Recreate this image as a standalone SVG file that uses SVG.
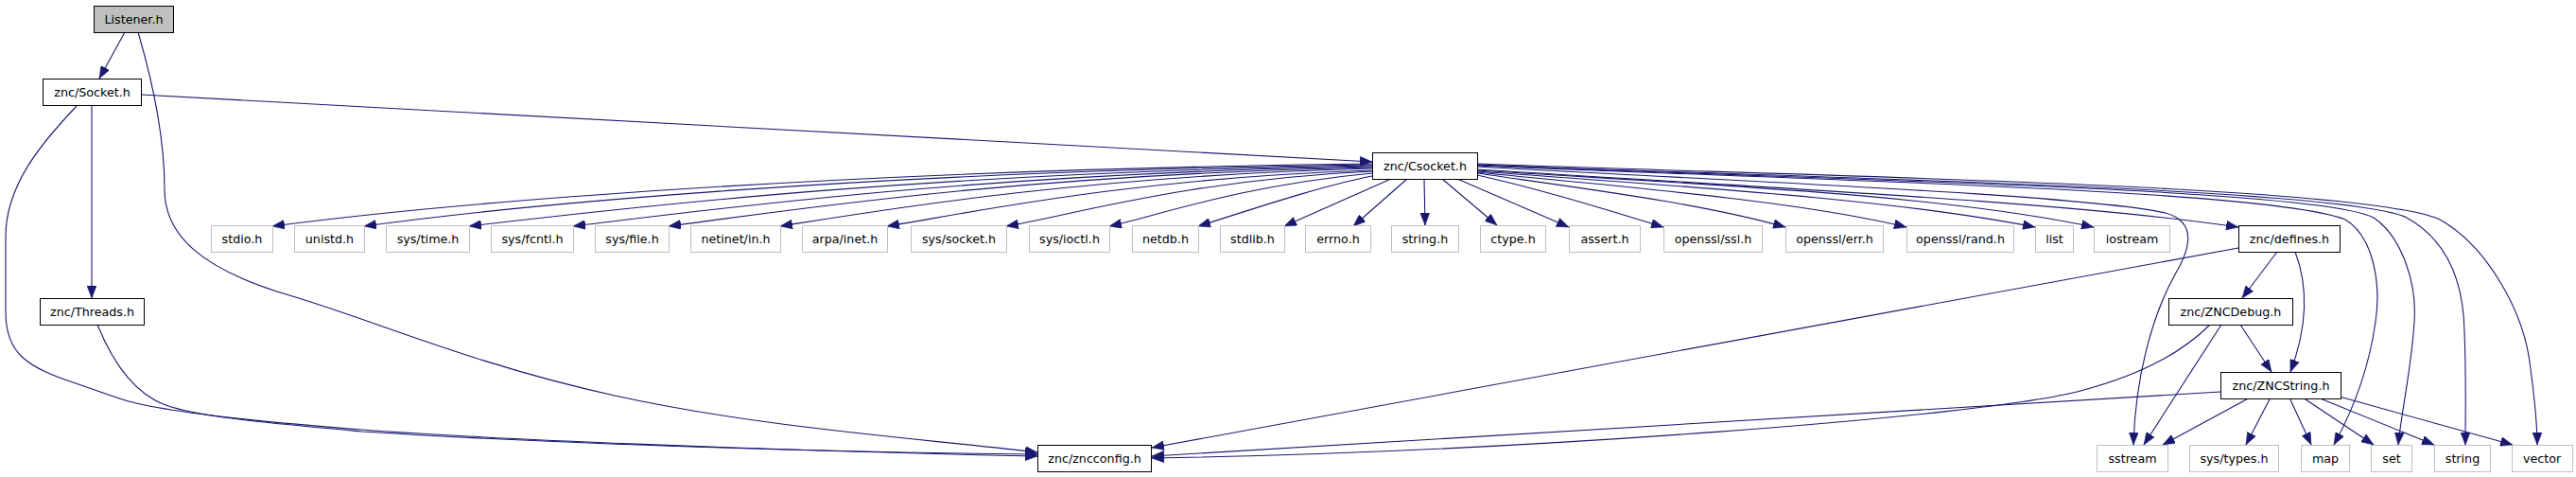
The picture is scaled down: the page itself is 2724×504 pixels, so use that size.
<svg xmlns="http://www.w3.org/2000/svg" width="2724" height="504" viewBox="0 0 2724 504">
<style>
.n rect{fill:#fff;stroke:#bfbfbf;stroke-width:1}
.n.k rect{stroke:#000}
.n.r rect{fill:#bfbfbf;stroke:#000}
.n text{font-family:"DejaVu Sans",sans-serif;font-size:12.7px;fill:#000;text-anchor:middle}
.e path{fill:none;stroke:#191970;stroke-width:1.1;marker-end:url(#a)}
</style>
<defs>
<marker id="a" viewBox="0 0 13 10" refX="13" refY="5" markerWidth="13" markerHeight="10" orient="auto" markerUnits="userSpaceOnUse"><path d="M0,0L13,5L0,10z" fill="#191970" stroke="#191970" stroke-width="0.5"/></marker>
</defs>
<rect width="2724" height="504" fill="#fff"/>
<g class="e" id="edges">
<path d="M132,34 L105,83"/>
<path d="M149,100 L1451,171"/>
<path d="M97,111 L97,315"/>
<path d="M146,34 C164,95 174,150 174,200 S215,285 306,312 S500,385 650,418 S960,462 1097,478"/>
<path d="M81,112 C45,150 6,195 6,250 L6,330 C6,375 30,388 80,405 L126,421 C160,433 240,443 383,454 C500,463 800,476 1097,482"/>
<path d="M103,343 C118,380 140,415 175,428 C215,442 300,448 383,456 C600,470 900,478 1097,480"/>
<path d="M1451,173 C870,180 462,216 288,239"/>
<path d="M1451,174 C918,181 545,217 385,239"/>
<path d="M1451,175 C975,182 660,220 496,239"/>
<path d="M1451,176 C1030,183 750,222 606,239"/>
<path d="M1451,177 C1080,184 830,223 707,239"/>
<path d="M1451,178 C1140,186 920,224 825,239"/>
<path d="M1451,180 C1195,188 1020,226 938,239"/>
<path d="M1451,181 C1257,190 1130,228 1064,239"/>
<path d="M1451,183 C1312,196 1220,229 1173,239"/>
<path d="M1451,186 C1390,198 1310,226 1267,239"/>
<path d="M1471,189 L1358,239"/>
<path d="M1488,189 L1431,239"/>
<path d="M1506,189 L1507,238"/>
<path d="M1525,189 L1583,238"/>
<path d="M1541,189 L1659,240"/>
<path d="M1562,185 C1630,200 1700,222 1759,240"/>
<path d="M1562,183 C1680,200 1800,215 1888,240"/>
<path d="M1562,182 C1720,198 1900,212 2016,240"/>
<path d="M1562,181 C1780,197 2000,210 2152,240"/>
<path d="M1562,180 C1800,195 2050,205 2214,240"/>
<path d="M1562,179 C1900,200 2200,215 2367,240"/>
<path d="M1562,176 C1800,190 2200,205 2290,225 C2325,235 2315,265 2300,290 C2275,335 2258,400 2256,470"/>
<path d="M1562,175 C1900,190 2400,200 2480,232 C2510,250 2518,300 2512,340 C2505,390 2490,430 2468,470"/>
<path d="M1562,174 C1900,190 2450,198 2510,230 C2540,250 2556,300 2553,340 C2550,390 2540,430 2536,470"/>
<path d="M1562,174 C1900,188 2480,198 2545,230 C2590,255 2605,300 2606,350 C2608,400 2607,440 2607,470"/>
<path d="M1562,173 C1900,186 2500,195 2580,232 C2630,260 2670,330 2676,390 C2680,420 2683,450 2683,470"/>
<path d="M2408,266 L2371,315"/>
<path d="M2427,266 C2440,300 2442,340 2422,393"/>
<path d="M2367,262 L1218,473"/>
<path d="M2349,343 L2267,470"/>
<path d="M2369,343 L2402,393"/>
<path d="M2337,343 C2300,380 2250,400 2200,413 C2100,440 1600,478 1218,484"/>
<path d="M2348,414 L1218,482"/>
<path d="M2383,418 L2287,470"/>
<path d="M2402,418 L2375,470"/>
<path d="M2420,418 L2444,470"/>
<path d="M2432,418 L2510,470"/>
<path d="M2446,418 L2574,470"/>
<path d="M2470,418 L2657,470"/>
</g>
<g class="n r" id="listener"><rect x="99.5" y="6.5" width="84" height="28"/><text x="141.5" y="25">Listener.h</text></g>
<g class="n k" id="socket"><rect x="45.5" y="83.5" width="104" height="28"/><text x="97.5" y="102">znc/Socket.h</text></g>
<g class="n k" id="csocket"><rect x="1451.5" y="161.5" width="111" height="28"/><text x="1507" y="180">znc/Csocket.h</text></g>
<g class="n" id="stdio"><rect x="223.5" y="238.5" width="65" height="28"/><text x="256" y="257">stdio.h</text></g>
<g class="n" id="unistd"><rect x="311.5" y="238.5" width="74" height="28"/><text x="348.5" y="257">unistd.h</text></g>
<g class="n" id="systime"><rect x="408.5" y="238.5" width="88" height="28"/><text x="452.5" y="257">sys/time.h</text></g>
<g class="n" id="sysfcntl"><rect x="519.5" y="238.5" width="87" height="28"/><text x="563" y="257">sys/fcntl.h</text></g>
<g class="n" id="sysfile"><rect x="629.5" y="238.5" width="78" height="28"/><text x="668.5" y="257">sys/file.h</text></g>
<g class="n" id="netinet"><rect x="730.5" y="238.5" width="95" height="28"/><text x="778" y="257">netinet/in.h</text></g>
<g class="n" id="arpa"><rect x="848.5" y="238.5" width="90" height="28"/><text x="893.5" y="257">arpa/inet.h</text></g>
<g class="n" id="syssocket"><rect x="963.5" y="238.5" width="101" height="28"/><text x="1014" y="257">sys/socket.h</text></g>
<g class="n" id="sysioctl"><rect x="1088.5" y="238.5" width="85" height="28"/><text x="1131" y="257">sys/ioctl.h</text></g>
<g class="n" id="netdb"><rect x="1197.5" y="238.5" width="70" height="28"/><text x="1232.5" y="257">netdb.h</text></g>
<g class="n" id="stdlib"><rect x="1290.5" y="238.5" width="68" height="28"/><text x="1324.5" y="257">stdlib.h</text></g>
<g class="n" id="errno"><rect x="1380.5" y="238.5" width="69" height="28"/><text x="1415" y="257">errno.h</text></g>
<g class="n" id="stringh"><rect x="1471.5" y="238.5" width="71" height="28"/><text x="1507" y="257">string.h</text></g>
<g class="n" id="ctype"><rect x="1565.5" y="238.5" width="69" height="28"/><text x="1600" y="257">ctype.h</text></g>
<g class="n" id="assert"><rect x="1659.5" y="238.5" width="75" height="28"/><text x="1697" y="257">assert.h</text></g>
<g class="n" id="sslh"><rect x="1759.5" y="238.5" width="104" height="28"/><text x="1811.5" y="257">openssl/ssl.h</text></g>
<g class="n" id="errh"><rect x="1888.5" y="238.5" width="103" height="28"/><text x="1940" y="257">openssl/err.h</text></g>
<g class="n" id="randh"><rect x="2016.5" y="238.5" width="113" height="28"/><text x="2073" y="257">openssl/rand.h</text></g>
<g class="n" id="list"><rect x="2152.5" y="238.5" width="40" height="28"/><text x="2172.5" y="257">list</text></g>
<g class="n" id="iostream"><rect x="2214.5" y="238.5" width="80" height="28"/><text x="2254.5" y="257">iostream</text></g>
<g class="n k" id="defines"><rect x="2367.5" y="238.5" width="107" height="28"/><text x="2421" y="257">znc/defines.h</text></g>
<g class="n k" id="threads"><rect x="42.5" y="315.5" width="110" height="28"/><text x="97.5" y="334">znc/Threads.h</text></g>
<g class="n k" id="zncdebug"><rect x="2293.5" y="315.5" width="131" height="28"/><text x="2359" y="334">znc/ZNCDebug.h</text></g>
<g class="n k" id="zncstring"><rect x="2348.5" y="393.5" width="127" height="28"/><text x="2412" y="412">znc/ZNCString.h</text></g>
<g class="n k" id="zncconfig"><rect x="1097.5" y="470.5" width="120" height="28"/><text x="1157.5" y="489">znc/zncconfig.h</text></g>
<g class="n" id="sstream"><rect x="2217.5" y="470.5" width="75" height="28"/><text x="2255" y="489">sstream</text></g>
<g class="n" id="systypes"><rect x="2315.5" y="470.5" width="94" height="28"/><text x="2362.5" y="489">sys/types.h</text></g>
<g class="n" id="map"><rect x="2433.5" y="470.5" width="51" height="28"/><text x="2459" y="489">map</text></g>
<g class="n" id="set"><rect x="2507.5" y="470.5" width="43" height="28"/><text x="2529" y="489">set</text></g>
<g class="n" id="string"><rect x="2574.5" y="470.5" width="59" height="28"/><text x="2604" y="489">string</text></g>
<g class="n" id="vector"><rect x="2656.5" y="470.5" width="64" height="28"/><text x="2688" y="489">vector</text></g>
</svg>
